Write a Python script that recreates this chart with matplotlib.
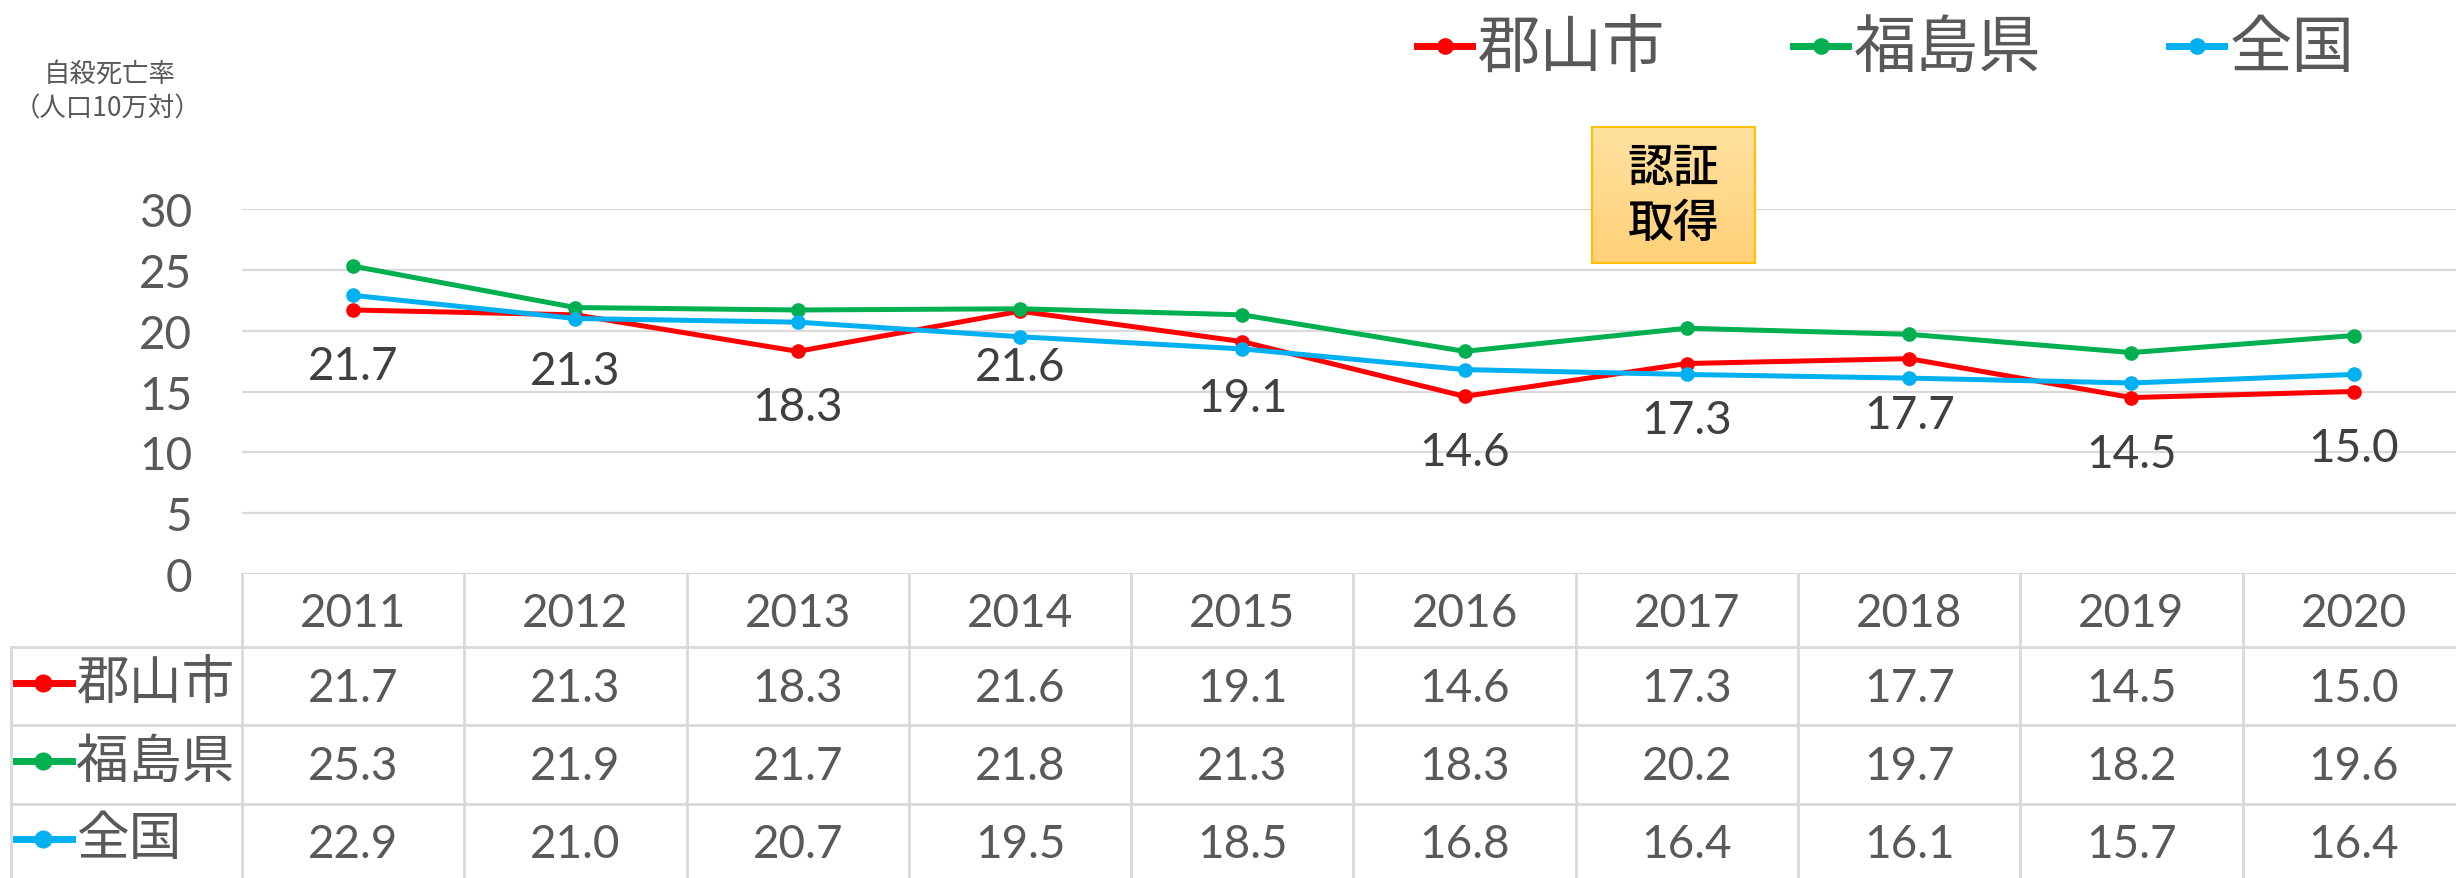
import matplotlib
matplotlib.use('Agg')
import matplotlib.pyplot as plt
import matplotlib.transforms as mtransforms
from matplotlib.lines import Line2D
from matplotlib.patches import Rectangle
import numpy as np

# ---------------- data ----------------
years = ['2011', '2012', '2013', '2014', '2015', '2016', '2017', '2018', '2019', '2020']
koriyama = [21.7, 21.3, 18.3, 21.6, 19.1, 14.6, 17.3, 17.7, 14.5, 15.0]
fukushima = [25.3, 21.9, 21.7, 21.8, 21.3, 18.3, 20.2, 19.7, 18.2, 19.6]
zenkoku = [22.9, 21.0, 20.7, 19.5, 18.5, 16.8, 16.4, 16.1, 15.7, 16.4]
series_names = ['郡山市', '福島県', '全国']
series_colors = ['#FF0000', '#00B050', '#00B0F0']
yticks = [0, 5, 10, 15, 20, 25, 30]
y_title_lines = ['自殺死亡率', '（人口10万対）']
note_text = '認証\n取得'
note_x = 5.94  # position of the note (near 2017)

# ---------------- figure ----------------
W, H = 2456, 879
DPI = 100
fig = plt.figure(figsize=(W / DPI, H / DPI), dpi=DPI)
fig.patch.set_facecolor('white')

def fx(p):
    return p / W

def fy(p):
    return 1 - p / H

CJK = ['Noto Sans CJK JP', 'DejaVu Sans']
NUM = ['Lato', 'DejaVu Sans']
GRAY = '#595959'
GRID = '#D9D9D9'

ax = fig.add_axes([fx(242), fy(575), fx(2456) - fx(242), fy(210) - fy(575)])
ax.set_xlim(-0.5, 9.46)
ax.set_ylim(0, 30)
for s in ax.spines.values():
    s.set_visible(False)
ax.set_xticks([])
ax.set_yticks(yticks)
ax.set_yticklabels([str(t) for t in yticks], family=NUM, fontsize=33, color=GRAY)
ax.tick_params(axis='y', length=0, pad=36)
ax.grid(axis='y', color=GRID, lw=1.6)
ax.set_axisbelow(True)

x = np.arange(len(years))
all_series = [koriyama, fukushima, zenkoku]
for vals, c in zip(all_series, series_colors):
    ax.plot(x, vals, color=c, lw=3.6, marker='o', ms=9.5, zorder=3, clip_on=False)

# data labels (郡山市) below points
for xi, v in zip(x, koriyama):
    ax.annotate(f'{v:.1f}', (xi, v), xytext=(0, -69), textcoords='offset pixels',
                ha='center', va='baseline', family=NUM, fontsize=33, color='#404040')

# note box with gradient
bx0, bx1 = note_x - 0.367, note_x + 0.367
by0, by1 = 25.6, 36.7
grad = np.linspace(0, 1, 100).reshape(-1, 1)
top = np.array([255, 226, 160]) / 255
bot = np.array([255, 208, 120]) / 255
img = top[None, None, :] * (1 - grad[:, :, None]) + bot[None, None, :] * grad[:, :, None]
ax.imshow(img, extent=[bx0, bx1, by0, by1], origin='upper', aspect='auto', zorder=4, clip_on=False)
ax.add_patch(Rectangle((bx0, by0), bx1 - bx0, by1 - by0, fill=False, edgecolor='#FFC000',
                       lw=1.5, zorder=5, clip_on=False))
ax.text(note_x, (by0 + by1) / 2, note_text, ha='center', va='center', family=CJK, fontsize=33,
        color='black', weight='medium', linespacing=1.2, zorder=6)
ax.set_xlim(-0.5, 9.46)
ax.set_ylim(0, 30)

# y-axis title
fig.text(fx(110), fy(74), y_title_lines[0], ha='center', va='center', family=CJK, fontsize=19, color=GRAY)
fig.text(fx(107), fy(109), y_title_lines[1], ha='center', va='center', family=CJK, fontsize=19, color=GRAY)

# top legend
leg_line_x = [(1417, 1472), (1793, 1848), (2169, 2224)]
for (a, b), name, c in zip(leg_line_x, series_names, series_colors):
    fig.add_artist(Line2D([fx(a), fx(b)], [fy(47), fy(47)], transform=fig.transFigure,
                          color=c, lw=5))
    fig.add_artist(Line2D([fx((a + b) / 2)], [fy(47)], transform=fig.transFigure,
                          color=c, marker='o', ms=11, lw=0))
    fig.text(fx(b + 6), fy(49), name, ha='left', va='center', family=CJK, fontsize=45, color=GRAY)

# ---------------- data table ----------------
blend = mtransforms.blended_transform_factory(ax.transData, fig.transFigure)
tbl_lw = 2.0
# vertical lines
for i in range(len(years) + 1):
    fig.add_artist(Line2D([i - 0.5, i - 0.5], [fy(575), 0], transform=blend, color=GRID, lw=tbl_lw))
fig.add_artist(Line2D([fx(11), fx(11)], [fy(648), 0], transform=fig.transFigure, color=GRID, lw=tbl_lw))
# horizontal lines
for yp in [648, 726, 805]:
    fig.add_artist(Line2D([fx(11), 1], [fy(yp), fy(yp)], transform=fig.transFigure, color=GRID, lw=tbl_lw))

# header
for i, yr in enumerate(years):
    fig.text(i, fy(627), yr, transform=blend, ha='center', va='baseline', family=NUM,
             fontsize=33, color=GRAY)

row_baselines = [702, 780, 858]
row_centers = [684, 762, 840]
for vals, name, c, yb, yc in zip(all_series, series_names, series_colors, row_baselines, row_centers):
    for i, v in enumerate(vals):
        fig.text(i, fy(yb), f'{v:.1f}', transform=blend, ha='center', va='baseline', family=NUM,
                 fontsize=33, color=GRAY)
    fig.add_artist(Line2D([fx(16), fx(72)], [fy(yc), fy(yc)], transform=fig.transFigure, color=c, lw=5))
    fig.add_artist(Line2D([fx(43)], [fy(yc)], transform=fig.transFigure, color=c, marker='o', ms=12, lw=0))
    fig.text(fx(76), fy(yc), name, ha='left', va='center', family=CJK, fontsize=38, color=GRAY)

fig.savefig('out.png', dpi=DPI)
